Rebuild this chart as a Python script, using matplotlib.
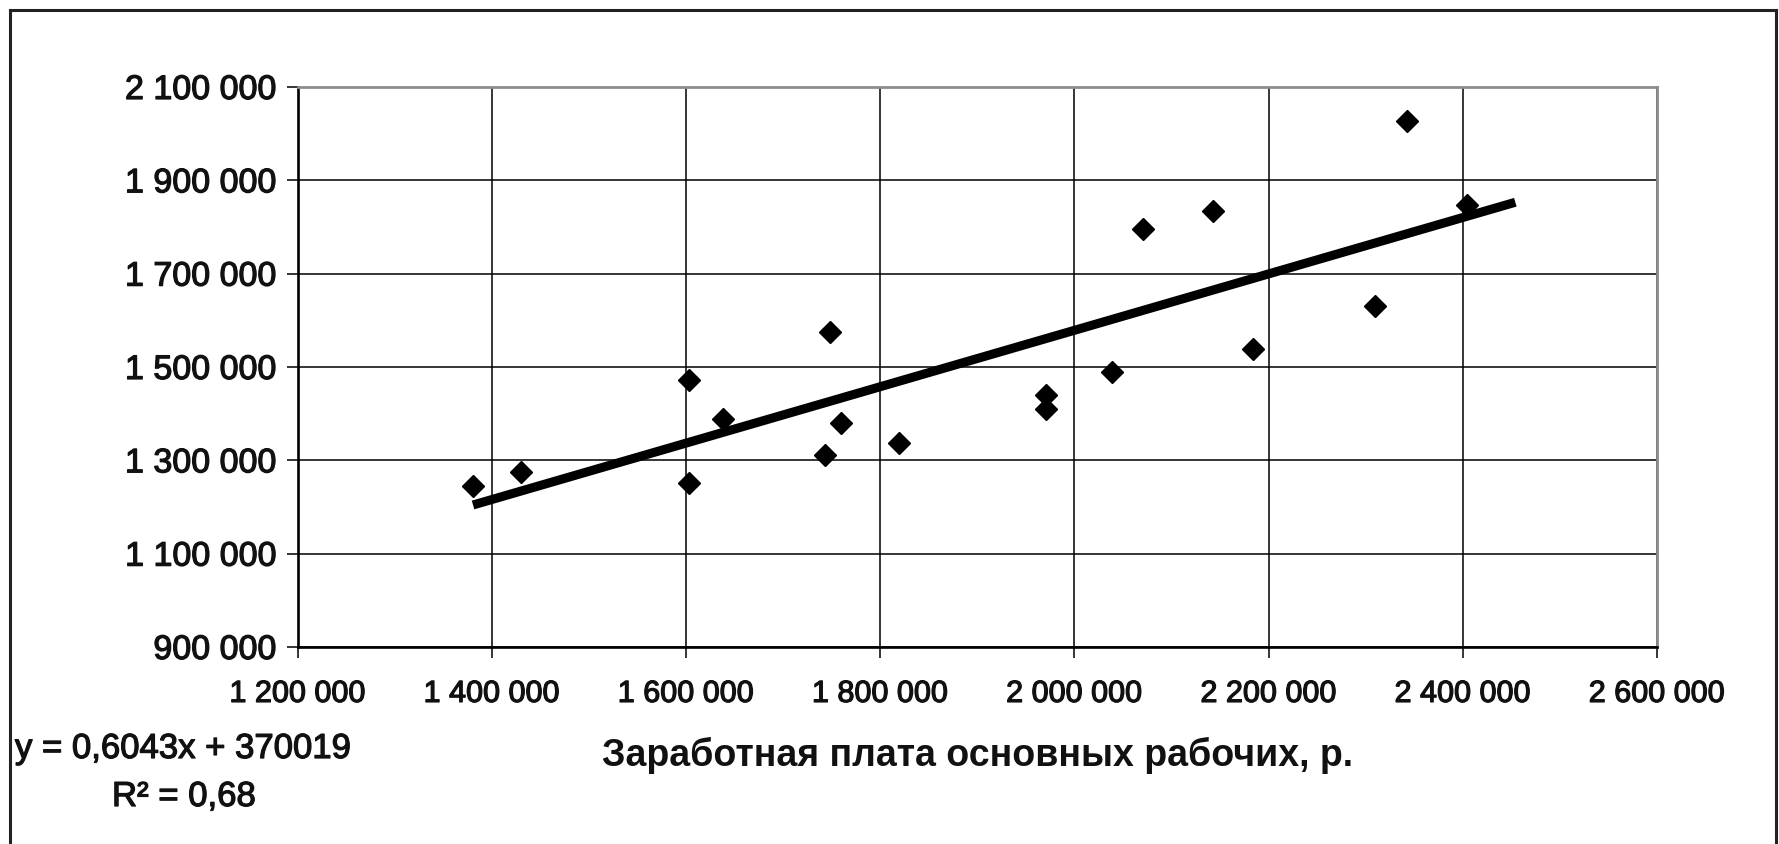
import matplotlib
matplotlib.use('Agg')
import matplotlib.pyplot as plt
import matplotlib.ticker as mticker
import matplotlib.patheffects as pe
from matplotlib.lines import Line2D
import numpy as np

plt.rcParams['font.family'] = ['Liberation Sans', 'DejaVu Sans']

# data
wages = [1380600, 1429900, 1602700, 1603400, 1638000, 1748400, 1743500, 1759200, 1819800,
         1971100, 1971100, 2039100, 2071100, 2142600, 2183700, 2309500, 2342900, 2404100]
values = [1244600, 1276000, 1472500, 1252000, 1388700, 1574200, 1312300, 1379300, 1336300,
          1439700, 1409200, 1488400, 1796000, 1835000, 1539300, 1630300, 2027400, 1846600]

# linear trend shown on the chart
slope = 0.6043
intercept = 370019
r2_text = '0,68'
forecast_forward = 50000

x_ticks = [1200000, 1400000, 1600000, 1800000, 2000000, 2200000, 2400000, 2600000]
y_ticks = [900000, 1100000, 1300000, 1500000, 1700000, 1900000, 2100000]
x_label = 'Заработная плата основных рабочих, р.'

ink = '#111111'
# a slight stroke makes the regular face look like the heavy scanned text
heavy = [pe.withStroke(linewidth=0.9, foreground=ink)]

fig = plt.figure(figsize=(17.79, 8.44), dpi=100)
ax = fig.add_axes([297.7 / 1779, 1 - 647 / 844, (1657 - 297.7) / 1779, (647 - 87) / 844])

ax.set_xlim(x_ticks[0], x_ticks[-1])
ax.set_ylim(y_ticks[0], y_ticks[-1])
ax.set_xticks(x_ticks)
ax.set_yticks(y_ticks)

fmt = mticker.FuncFormatter(lambda v, p: f'{v:,.0f}'.replace(',', ' '))
ax.xaxis.set_major_formatter(fmt)
ax.yaxis.set_major_formatter(fmt)

ax.grid(True, color='black', linewidth=1.1, zorder=1)
ax.set_axisbelow(True)

# spines: left/bottom black, top/right grey like Excel
for side in ['left', 'bottom']:
    ax.spines[side].set_color('black')
    ax.spines[side].set_linewidth(1.9)
for side in ['top', 'right']:
    ax.spines[side].set_color('#8c8c8c')
    ax.spines[side].set_linewidth(2.0)

ax.tick_params(axis='both', direction='out', length=8, width=1.1, color='black',
               labelcolor=ink)
ax.tick_params(axis='y', pad=7, labelsize=24.5)
ax.tick_params(axis='x', pad=15, labelsize=22)
for lab in ax.get_xticklabels() + ax.get_yticklabels():
    lab.set_path_effects(heavy)

# scatter points
ax.plot(wages, values, linestyle='none', marker='D', markersize=11,
        color='black', zorder=4, clip_on=False)

# trendline
xs = np.array([min(wages), max(wages) + forecast_forward])
ax.plot(xs, slope * xs + intercept, color='black', linewidth=6.5,
        solid_capstyle='butt', zorder=3)

ax.set_xlabel(x_label, fontsize=27, fontweight='bold', color=ink, labelpad=20)

# trend equation text
fig.text(15 / 1779, 1 - 758 / 844, f'y = {slope:.4f}x + {intercept}'.replace('.', ','),
         fontsize=25, color=ink, ha='left', va='baseline', path_effects=heavy)
fig.text(112 / 1779, 1 - 806 / 844, f'R² = {r2_text}',
         fontsize=25, color=ink, ha='left', va='baseline', path_effects=heavy)

# outer frame of the chart area
frame_kw = dict(color='#222222', linewidth=2.2, transform=fig.transFigure)
fig.add_artist(Line2D([10 / 1779, 1776 / 1779], [1 - 10 / 844, 1 - 10 / 844], **frame_kw))
fig.add_artist(Line2D([10 / 1779, 10 / 1779], [1 - 10 / 844, 0], **frame_kw))
fig.add_artist(Line2D([1776 / 1779, 1776 / 1779], [1 - 10 / 844, 0], **frame_kw))

fig.savefig('out.png', dpi=100, facecolor='white')
